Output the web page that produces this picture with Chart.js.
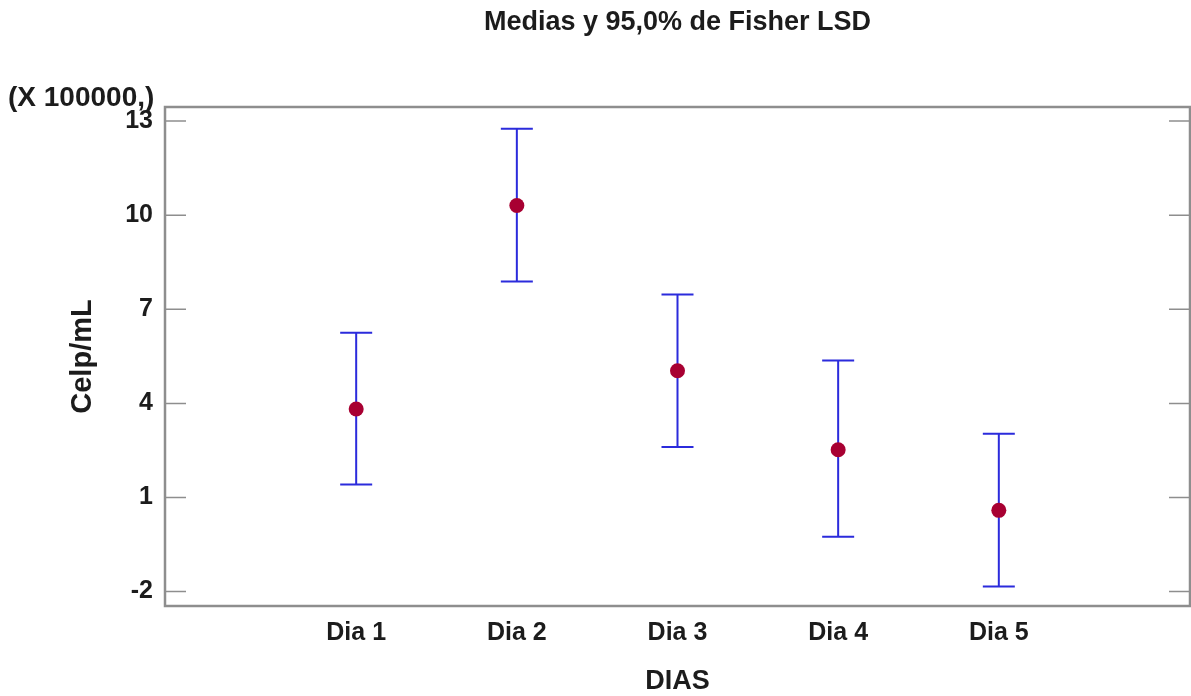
<!DOCTYPE html>
<html>
<head>
<meta charset="utf-8">
<title>Medias y 95,0% de Fisher LSD</title>
<script src="https://cdn.jsdelivr.net/npm/chart.js@4.4.1/dist/chart.umd.min.js"></script>
<style>
	html, body { margin: 0; padding: 0; background: #fff; }
	canvas { display: block; }
</style>
</head>
<body>
<canvas id="lsd_canvas" width="1191" height="696"></canvas>
<script>
// medias por dia con su intervalo LSD al 95% (unidades de 100000 celp/mL)
const dias = ['Dia 1', 'Dia 2', 'Dia 3', 'Dia 4', 'Dia 5'];
const medias = [3.82, 10.31, 5.04, 2.52, 0.59];
const limInf = [1.41, 7.89, 2.61, -0.25, -1.84];
const limSup = [6.25, 12.76, 7.47, 5.37, 3.03];
const yTicks = [-2, 1, 4, 7, 10, 13];

const fuente = 'Liberation Sans, Arial, Helvetica, sans-serif';
const textColor = '#1c1c1c';
const frameColor = '#8e8e8e';

// bigotes con sus topes, marco y marcas interiores de los ejes
const lsdPlugin = {
	id: 'lsd',
	beforeDatasetsDraw(chart) {
		const ctx = chart.ctx;
		const xs = chart.scales.x;
		const ys = chart.scales.y;
		const area = chart.chartArea;

		ctx.save();
		ctx.strokeStyle = frameColor;
		ctx.lineWidth = 1.5;
		yTicks.forEach(v => {
			let py = ys.getPixelForValue(v);
			ctx.beginPath();
			ctx.moveTo(area.left, py);
			ctx.lineTo(area.left + 21, py);
			ctx.moveTo(area.right, py);
			ctx.lineTo(area.right - 21, py);
			ctx.stroke();
		});

		ctx.lineWidth = 2.5;
		ctx.strokeRect(area.left, area.top, area.right - area.left, area.bottom - area.top);

		ctx.strokeStyle = '#2b2bdc';
		ctx.lineWidth = 2;
		dias.forEach((d, i) => {
			let px = xs.getPixelForValue(i + 1);
			let lo = ys.getPixelForValue(limInf[i]);
			let hi = ys.getPixelForValue(limSup[i]);
			ctx.beginPath();
			ctx.moveTo(px, lo);
			ctx.lineTo(px, hi);
			ctx.moveTo(px - 16, lo);
			ctx.lineTo(px + 16, lo);
			ctx.moveTo(px - 16, hi);
			ctx.lineTo(px + 16, hi);
			ctx.stroke();
		});
		ctx.restore();
	},
	afterDraw(chart) {
		const ctx = chart.ctx;
		ctx.save();
		ctx.fillStyle = textColor;
		ctx.font = 'bold 28px ' + fuente;
		ctx.textAlign = 'left';
		ctx.textBaseline = 'middle';
		ctx.fillText('(X 100000,)', 8, 98);
		ctx.restore();
	}
};

const ctx = document.getElementById('lsd_canvas').getContext('2d');

const lsd_chart = new Chart(ctx, {
	type: 'scatter',
	data: {
		datasets: [{
			label: 'Medias',
			data: medias.map((m, i) => ({ x: i + 1, y: m })),
			pointRadius: 7.5,
			pointBackgroundColor: '#a80032',
			pointBorderColor: '#a80032',
			pointBorderWidth: 0
		}]
	},
	options: {
		responsive: false,
		animation: false,
		layout: { autoPadding: false, padding: { left: 0, right: 1, top: 0, bottom: 0 } },
		plugins: {
			legend: { display: false },
			tooltip: { enabled: false },
			title: {
				display: true,
				fullSize: false,
				text: 'Medias y 95,0% de Fisher LSD',
				color: textColor,
				font: { family: fuente, size: 27, weight: 'bold', lineHeight: 1.2 },
				padding: { top: 6.4, bottom: 68.2 }
			}
		},
		scales: {
			x: {
				type: 'linear',
				min: -0.19,
				max: 6.19,
				grid: { display: false, drawTicks: false },
				border: { display: false },
				afterBuildTicks: scale => {
					scale.ticks = dias.map((d, i) => ({ value: i + 1 }));
				},
				afterFit: scale => { scale.height = 90; },
				ticks: {
					color: textColor,
					padding: 12,
					maxRotation: 0,
					font: { family: fuente, size: 25, weight: 'bold' },
					callback: v => dias[v - 1]
				},
				title: {
					display: true,
					text: 'DIAS',
					color: textColor,
					font: { family: fuente, size: 27, weight: 'bold', lineHeight: 1.2 },
					padding: { top: 0, bottom: -2 }
				}
			},
			y: {
				min: -2.46,
				max: 13.45,
				grid: { display: false, drawTicks: false },
				border: { display: false },
				afterBuildTicks: scale => {
					scale.ticks = yTicks.map(v => ({ value: v }));
				},
				afterFit: scale => { scale.width = 165; },
				ticks: {
					color: textColor,
					padding: 12,
					font: { family: fuente, size: 25, weight: 'bold' }
				},
				title: {
					display: true,
					text: 'Celp/mL',
					color: textColor,
					font: { family: fuente, size: 29, weight: 'bold', lineHeight: 1.2 },
					padding: { top: 65.6, bottom: 0 }
				}
			}
		}
	},
	plugins: [lsdPlugin]
});
</script>
</body>
</html>
